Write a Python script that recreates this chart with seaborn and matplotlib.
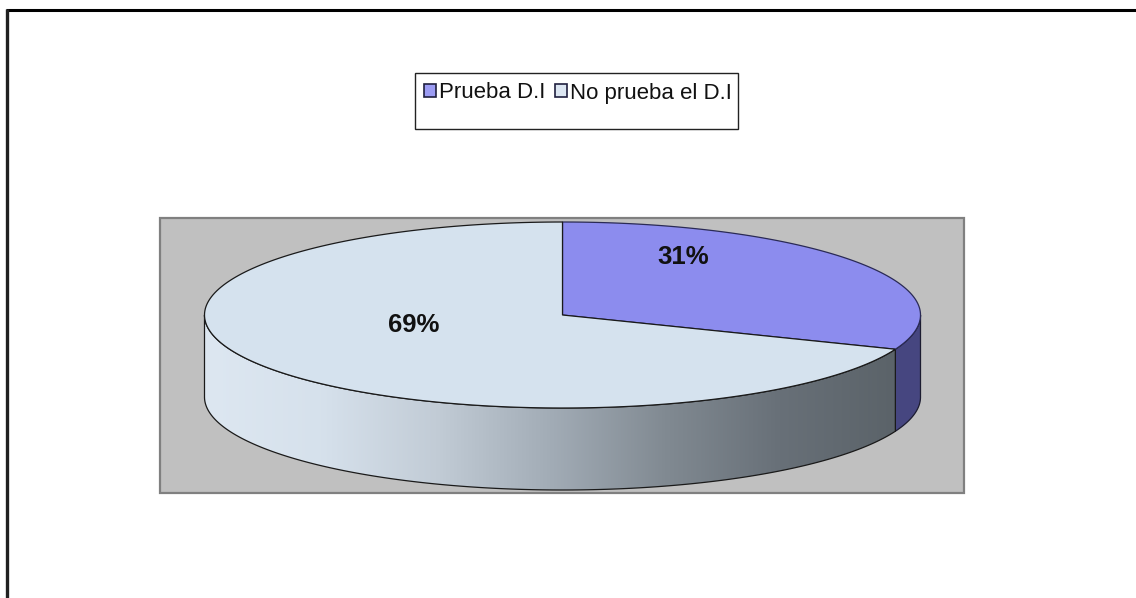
import numpy as np
import matplotlib
matplotlib.use("Agg")
import matplotlib.pyplot as plt
import seaborn as sns
from matplotlib.patches import Polygon, Rectangle, Patch

# Survey result: share of cases where the D.I is proven
categories = ["Prueba D.I", "No prueba el D.I"]
values = [31, 69]
top_colors = ["#8C8CEE", "#D5E2EE"]
legend_colors = ["#9C9CF4", "#DCE6F2"]

sns.set_theme(style="white")
plt.rcParams["font.family"] = ["Liberation Sans", "DejaVu Sans"]

W, H = 1136, 598
fig = plt.figure(figsize=(W / 100, H / 100), dpi=100)
ax = fig.add_axes([0, 0, 1, 1])
ax.set_xlim(0, W)
ax.set_ylim(H, 0)
ax.axis("off")

# outer frame (top and left edges)
ax.plot([6, W], [10, 10], color="black", lw=2.2, solid_capstyle="butt")
ax.plot([6.5, 6.5], [9, H], color="#202020", lw=2.4, solid_capstyle="butt")

# plot area
ax.add_patch(Rectangle((160, 218), 804, 275, facecolor="#C0C0C0",
                       edgecolor="#808080", lw=1.6, zorder=1))

# 3D pie geometry (pixel units)
CX, CY, RX, RY, DEPTH = 562.5, 315.0, 358.0, 93.0, 82.0


def arc(t0, t1, n=200, dy=0.0):
    t = np.radians(np.linspace(t0, t1, n))
    return np.column_stack([CX + RX * np.cos(t), CY - RY * np.sin(t) + dy])


total = float(sum(values))
fractions = np.array(values) / total
bounds = np.concatenate([[0], np.cumsum(fractions)])
starts = 90 - 360 * bounds[:-1]
ends = 90 - 360 * bounds[1:]

# side wall shading: light on the left, darker grey towards the right
side_cmap = sns.blend_palette(
    ["#DDE7F1", "#D6E1EC", "#C2CCD6", "#A2ACB6", "#818A92", "#687078", "#5B6369"],
    n_colors=256, as_cmap=True)
side_flat = ["#464680", None]

for i in range(len(values)):
    hi = min(starts[i], 0.0)
    lo = max(ends[i], -180.0)
    if lo >= hi:
        continue
    top = arc(hi, lo)
    bottom = arc(lo, hi, dy=DEPTH)
    pts = np.vstack([top, bottom])
    if side_flat[i] is not None:
        ax.add_patch(Polygon(pts, closed=True, facecolor=side_flat[i],
                             edgecolor="#1c1c30", lw=0.9, zorder=3))
    else:
        outline = Polygon(pts, closed=True, facecolor="none",
                          edgecolor="#1a1a1a", lw=0.9, zorder=4)
        ax.add_patch(outline)
        x0, x1 = pts[:, 0].min(), pts[:, 0].max()
        y0, y1 = pts[:, 1].min(), pts[:, 1].max()
        grad = np.linspace(0, 1, 512)[None, :]
        im = ax.imshow(grad, cmap=side_cmap, extent=[x0, x1, y1, y0],
                       aspect="auto", zorder=3, interpolation="bicubic")
        clip = Polygon(pts, closed=True, transform=ax.transData)
        im.set_clip_path(clip)

# top surfaces
edge_cols = ["#2a2a55", "#1a1a1a"]
for i in range(len(values)):
    pts = np.vstack([[CX, CY], arc(starts[i], ends[i])])
    ax.add_patch(Polygon(pts, closed=True, facecolor=top_colors[i],
                         edgecolor=edge_cols[i], lw=0.9, zorder=5))

# percentage labels
label_pos = [(0.337, 0.625), (-0.415, -0.105)]
for v, (fx, fy) in zip(values, label_pos):
    ax.text(CX + fx * RX, CY - fy * RY, f"{v:.0f}%", ha="center", va="center",
            fontsize=18.5, fontweight="bold", color="#111111", zorder=6)

# legend
ax.add_patch(Rectangle((414.5, 72.5), 323, 56, facecolor="white",
                       edgecolor="#222222", lw=1.0, zorder=6))
handles = [Patch(facecolor=c, edgecolor="#202040", lw=1.2) for c in legend_colors]
leg = ax.legend(handles, categories, loc="center", ncol=2,
                bbox_to_anchor=(578, 93), bbox_transform=ax.transData,
                frameon=False, fontsize=16, handlelength=0.55, handleheight=0.48,
                handletextpad=0.12, columnspacing=0.45, borderpad=0,
                borderaxespad=0)
leg.set_zorder(7)
for t in leg.get_texts():
    t.set_color("#111111")

fig.savefig("out.png", dpi=100)
